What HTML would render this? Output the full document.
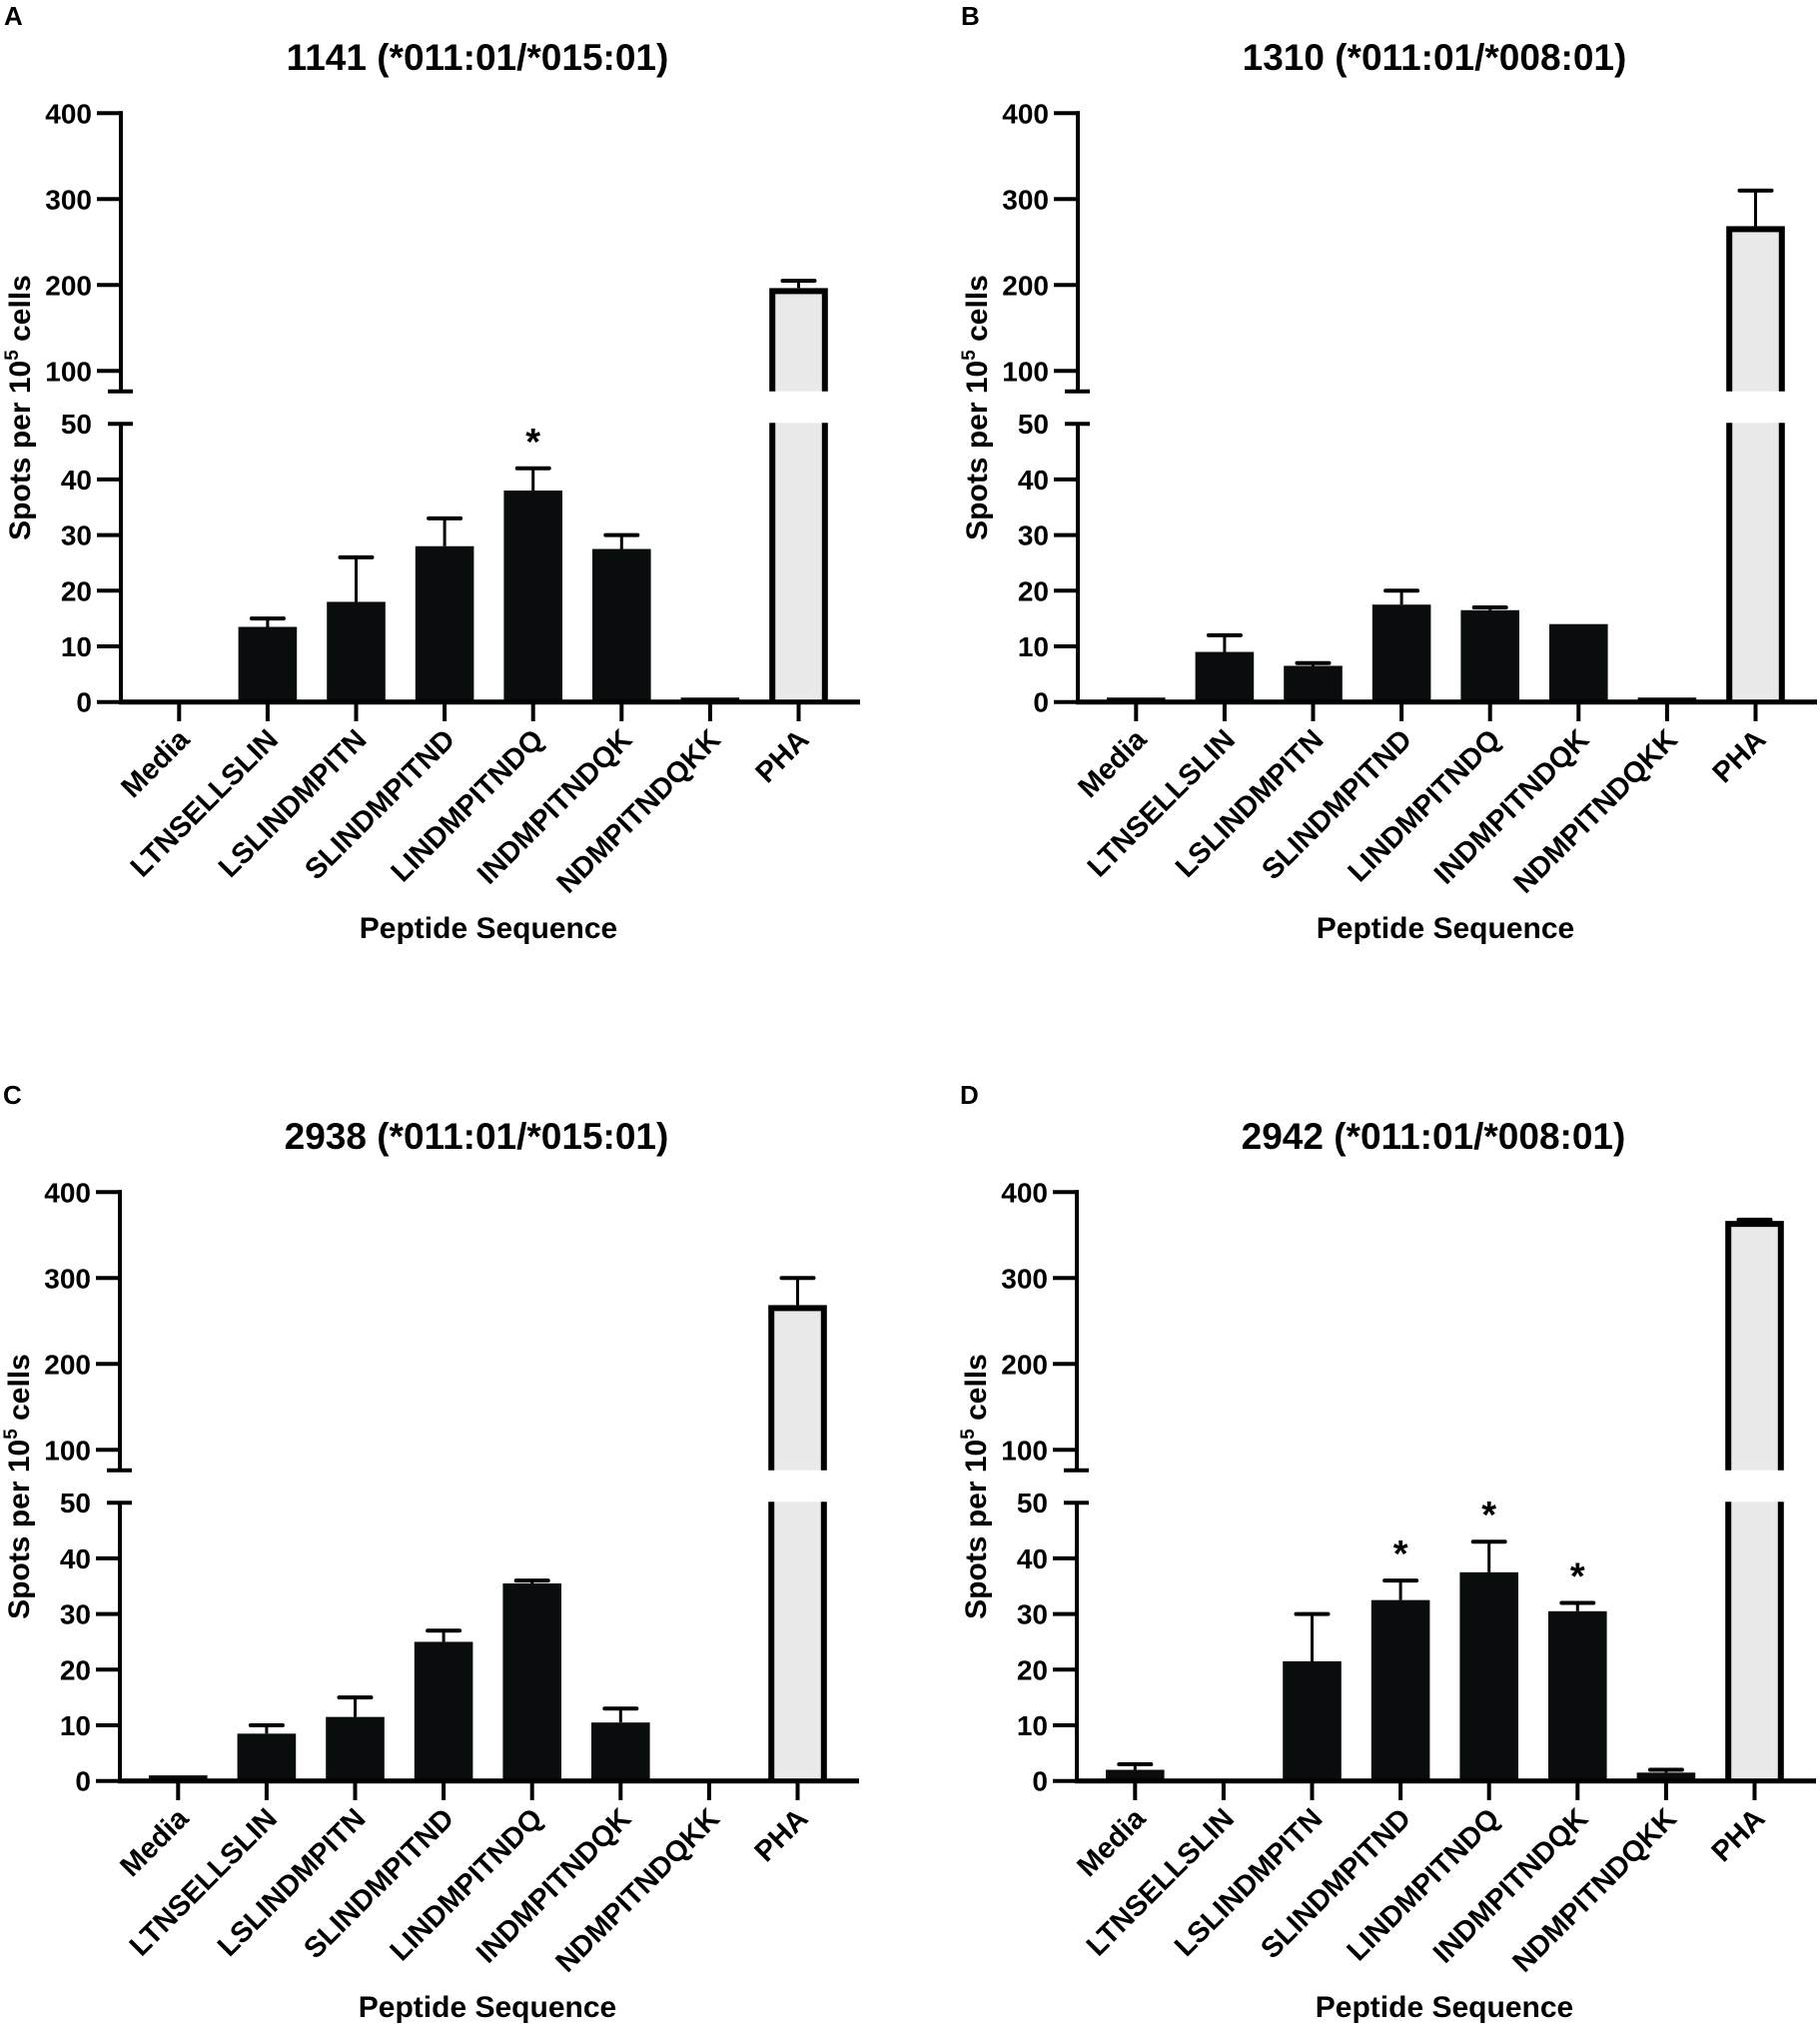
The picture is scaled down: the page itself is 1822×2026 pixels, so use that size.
<!DOCTYPE html>
<html><head><meta charset="utf-8">
<style>
html,body{margin:0;padding:0;background:#fff;}
svg{display:block;font-family:"Liberation Sans",Arial,sans-serif;font-weight:bold;}
</style></head>
<body>
<svg id="fig" width="1822" height="2026" viewBox="0 0 1822 2026" xmlns="http://www.w3.org/2000/svg">
<rect x="0" y="0" width="1822" height="2026" fill="#fff"/>
</svg>
<script>
const categories = ["Media","LTNSELLSLIN","LSLINDMPITN","SLINDMPITND","LINDMPITNDQ","INDMPITNDQK","NDMPITNDQKK","PHA"];
const lowerTicks = [0,10,20,30,40,50];
const upperTicks = [100,200,300,400];
const titles = ["1141 (*011:01/*015:01)","1310 (*011:01/*008:01)","2938 (*011:01/*015:01)","2942 (*011:01/*008:01)"];
const panelLetters = ["A","B","C","D"];
const valuesA = [0,13.5,18,28,38,27.5,0.8,193];
const errorsA = [0,15,26,33,42,30,0.8,205];
const starsA = [0,0,0,0,1,0,0,0];
const valuesB = [0.8,9,6.5,17.5,16.5,14,0.8,265];
const errorsB = [0.8,12,7,20,17,14,0.8,310];
const starsB = [0,0,0,0,0,0,0,0];
const valuesC = [1,8.5,11.5,25,35.5,10.5,0,265];
const errorsC = [1,10,15,27,36,13,0,300];
const starsC = [0,0,0,0,0,0,0,0];
const valuesD = [2,0,21.5,32.5,37.5,30.5,1.5,363];
const errorsD = [3,0,30,36,43,32,2,368];
const starsD = [0,0,0,1,1,1,0,0];

const NS = "http://www.w3.org/2000/svg";
const svg = document.getElementById("fig");
function mk(tag, attrs, parent){ const e=document.createElementNS(NS,tag); for(const k in attrs) e.setAttribute(k,attrs[k]); (parent||svg).appendChild(e); return e; }

function drawPanel(idx, ox, oy, vals, errs, stars){
  const g = mk("g",{transform:`translate(${ox},${oy})`});
  
  
  const AX=121, XEND=861, Y0=702.7, LOW_TOP=423.3, UP_BOT=391.7;
  const yLow = v => Y0 - v*5.57;
  const yUp = v => 113.3 + (400-v)*0.86;
  const xC = i => 179.3 + i*88.6;
  const BW=58.6;

  const letter = mk("text",{x:4,y:25,"font-size":26,fill:"#000"},g);
  letter.textContent = panelLetters[idx];
  
  

  const t = mk("text",{x:478,y:70,"font-size":37,"text-anchor":"middle",fill:"#000"},g);
  t.textContent = titles[idx];
  
  

  vals.forEach((v,i)=>{
    const cx = xC(i);
    const isPHA = categories[i]==="PHA";
    if(isPHA){
      const yTop = v>50 ? yUp(v) : yLow(v);
      const L = cx-BW/2+3, R = cx+BW/2-3;
      const f1 = mk("rect",{x:L,y:yTop,width:R-L,height:UP_BOT-yTop,fill:"#e8e9e8"},g);
      
      
      mk("path",{d:`M${L},${UP_BOT} L${L},${yTop} L${R},${yTop} L${R},${UP_BOT}`,fill:"none",stroke:"#000","stroke-width":6,"stroke-linejoin":"miter"},g);
      const f2 = mk("rect",{x:L,y:LOW_TOP,width:R-L,height:Y0-LOW_TOP,fill:"#e8e9e8"},g);
      
      
      mk("path",{d:`M${L},${LOW_TOP} L${L},${Y0} M${R},${LOW_TOP} L${R},${Y0}`,fill:"none",stroke:"#000","stroke-width":6},g);
      const e = errs[i];
      if(e>v){
        const ey = yUp(e);
        const el = mk("line",{x1:cx,x2:cx,y1:ey,y2:yTop-3,stroke:"#000","stroke-width":3},g);
        
        
        mk("line",{x1:cx-16,x2:cx+16,y1:ey,y2:ey,stroke:"#000","stroke-width":4,"stroke-linecap":"round"},g);
      }
    } else {
      const yTop = yLow(v);
      if(v>0){
        const b = mk("rect",{x:cx-BW/2,y:yTop,width:BW,height:Y0-yTop,fill:"#0a0d0d"},g);
        
        
      }
      const e = errs[i];
      if(e>v){
        const ey = yLow(e);
        const el = mk("line",{x1:cx,x2:cx,y1:ey,y2:yTop,stroke:"#000","stroke-width":3},g);
        
        
        mk("line",{x1:cx-16,x2:cx+16,y1:ey,y2:ey,stroke:"#000","stroke-width":4,"stroke-linecap":"round"},g);
      }
      if(stars[i]){
        const s = mk("text",{x:cx,y:yLow(Math.max(e,v))-14,"font-size":38,"text-anchor":"middle",fill:"#000"},g);
        s.textContent = "*";
        
        
      }
    }
  });

  const yu = mk("line",{x1:AX,x2:AX,y1:yUp(400)-2,y2:UP_BOT,stroke:"#000","stroke-width":4},g);
  
  
  mk("line",{x1:108,x2:133,y1:UP_BOT,y2:UP_BOT,stroke:"#000","stroke-width":4},g);
  upperTicks.forEach(v=>{
    const y=yUp(v);
    mk("line",{x1:97,x2:AX+2,y1:y,y2:y,stroke:"#000","stroke-width":4},g);
    const tl = mk("text",{x:92,y:y+10,"font-size":28,"text-anchor":"end",fill:"#000"},g);
    tl.textContent = v;
    
    
  });
  const yl = mk("line",{x1:AX,x2:AX,y1:LOW_TOP,y2:Y0,stroke:"#000","stroke-width":4},g);
  
  
  lowerTicks.forEach(v=>{
    const y=yLow(v);
    if(v===50) mk("line",{x1:108,x2:133,y1:y,y2:y,stroke:"#000","stroke-width":4},g);
    else mk("line",{x1:97,x2:AX,y1:y,y2:y,stroke:"#000","stroke-width":4},g);
    const tl = mk("text",{x:92,y:y+10,"font-size":28,"text-anchor":"end",fill:"#000"},g);
    tl.textContent = v;
    
    
  });
  const xa = mk("line",{x1:AX-2,x2:XEND,y1:Y0,y2:Y0,stroke:"#000","stroke-width":5},g);
  
  
  categories.forEach((c,i)=>{
    const cx=xC(i);
    mk("line",{x1:cx,x2:cx,y1:Y0,y2:722,stroke:"#000","stroke-width":4},g);
    const lx = cx+12, ly=742;
    const tl = mk("text",{x:lx,y:ly,"font-size":29,"text-anchor":"end",fill:"#000",transform:`rotate(-45 ${lx} ${ly})`},g);
    tl.textContent = c;
    
    
  });
  const xt = mk("text",{x:489,y:939,"font-size":30,"text-anchor":"middle",fill:"#000"},g);
  xt.textContent = "Peptide Sequence";
  
  
  const yt = mk("text",{x:0,y:0,"font-size":30,"text-anchor":"middle",fill:"#000",transform:"translate(30 408) rotate(-90)"},g);
  
  
  yt.appendChild(document.createTextNode("Spots per 10"));
  const sup = mk("tspan",{"font-size":19,dy:-12},yt);
  sup.textContent="5";
  const rest = mk("tspan",{dy:12},yt);
  rest.textContent=" cells";
}

drawPanel(0, 0, 0, valuesA, errorsA, starsA);
drawPanel(1, 958, 0, valuesB, errorsB, starsB);
drawPanel(2, -1, 1080, valuesC, errorsC, starsC);
drawPanel(3, 957, 1080, valuesD, errorsD, starsD);
</script>
</body></html>
